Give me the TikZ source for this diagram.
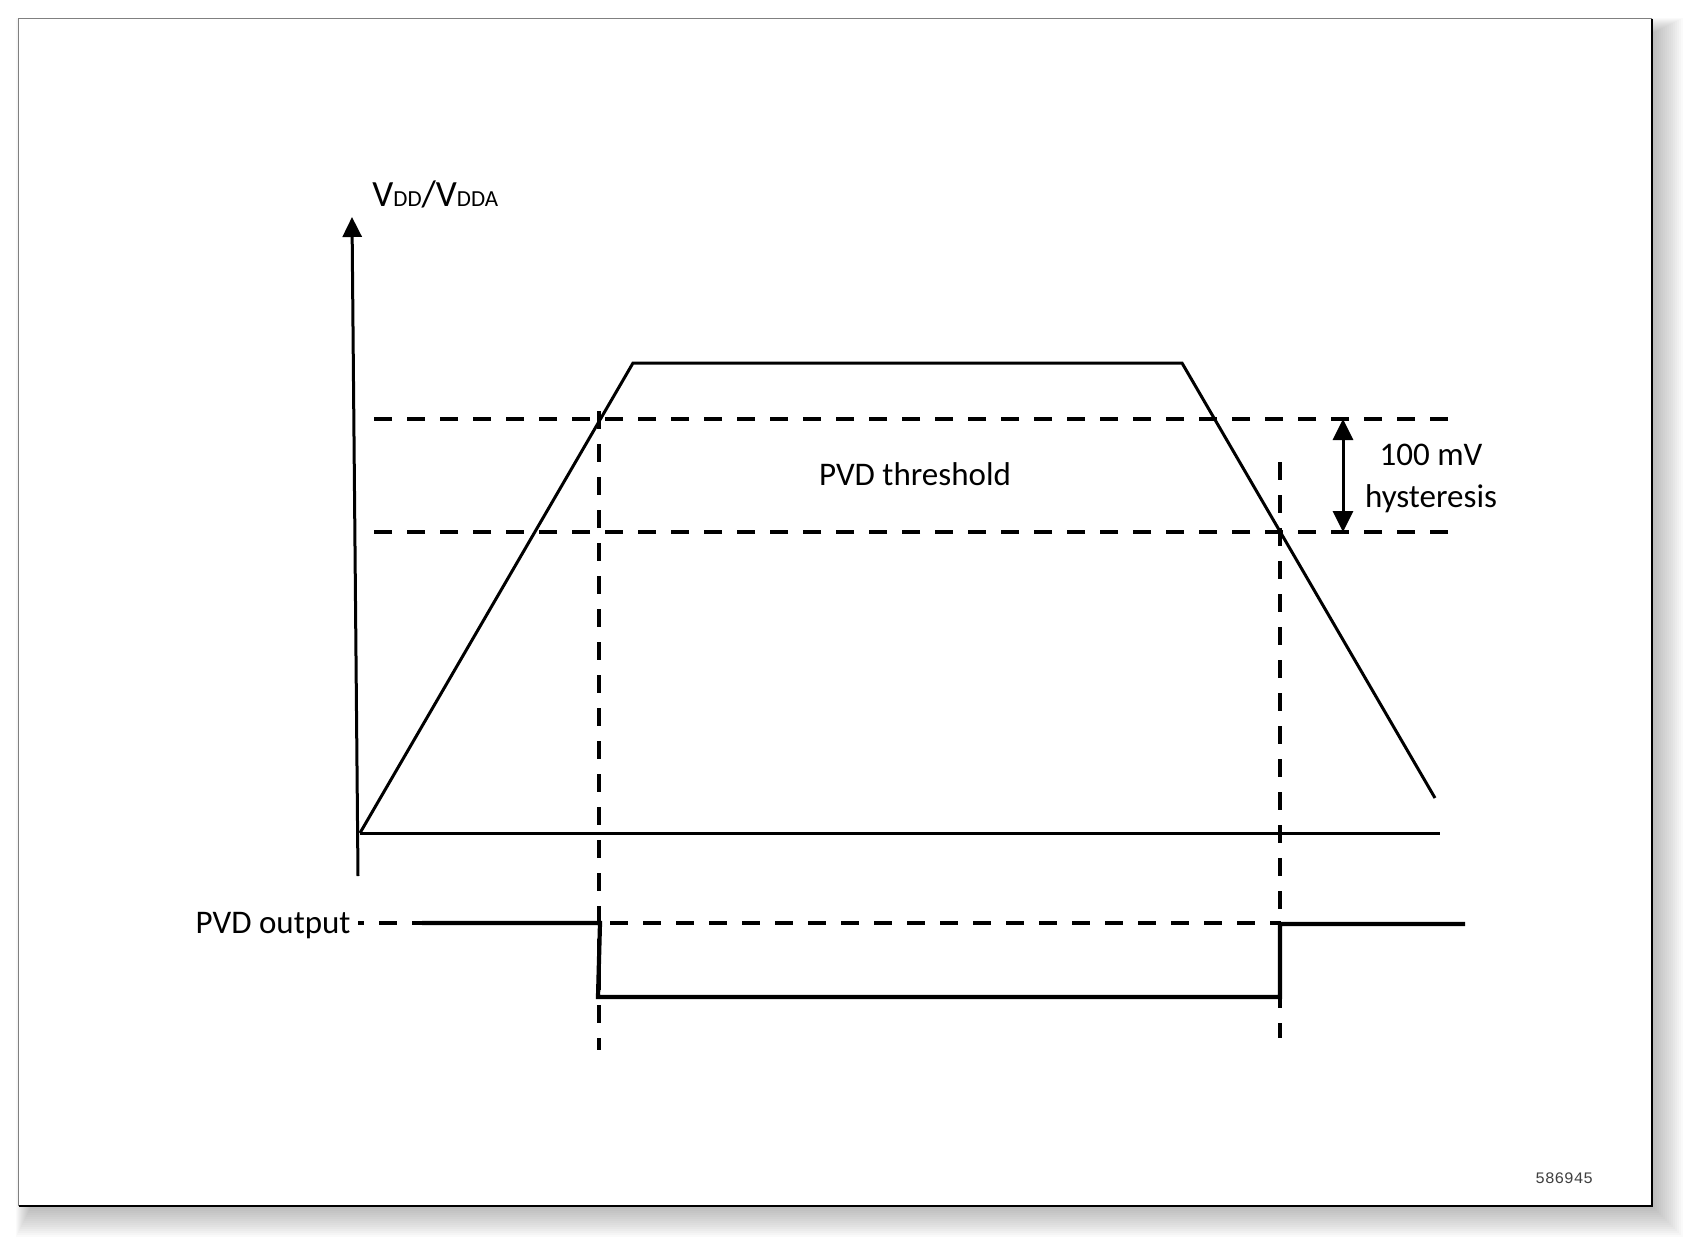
\documentclass[tikz,border=0pt]{standalone}
\usepackage{fontspec}
\setmainfont{Carlito}
\newfontfamily\monofont{Liberation Mono}
\usetikzlibrary{arrows.meta}
\begin{document}
\begin{tikzpicture}[x=0.5pt,y=-0.5pt,
  curveline/.style={line width=1.5pt, line join=miter},
  axisline/.style={line width=1.5pt},
  dashline/.style={line width=1.6pt, dash pattern=on 9pt off 7.5pt},
  sigline/.style={line width=2.1pt, line join=miter},
  lbl/.style={font=\fontsize{16.5}{20}\selectfont, inner sep=0pt},
  bigtip/.tip={Triangle[width=9.5pt,length=10pt]},
  hystip/.tip={Triangle[width=10pt,length=10.5pt]}]
\useasboundingbox (0,0) rectangle (1688,1242);
% frame shadow
\foreach \k in {0,2,...,28}
  \fill[black,opacity=0.02] (30-0.5*\k,32-0.5*\k) rectangle (1655+\k,1209+\k);
\fill[white] (18.5,18.5) rectangle (1652,1206);
\draw[gray, line width=0.8pt] (18.5,1206) -- (18.5,18.5) -- (1652,18.5);
\draw[black, line width=0.8pt] (1652,18.5) -- (1652,1206) -- (18.5,1206);
% coordinates
\coordinate (O) at (360,833);
\coordinate (A) at (633,363);
\coordinate (B) at (1182,363);
\coordinate (C) at (1435,798);
\coordinate (yb) at (358,876);
\coordinate (yt) at (352,217);
\coordinate (xe) at (1440,833);
\coordinate (u1) at (1448,419); \coordinate (u0) at (364,419);
\coordinate (l1) at (1448,532); \coordinate (l0) at (364,532);
\coordinate (v1t) at (599,411); \coordinate (v1b) at (599,1050);
\coordinate (v2t) at (1280,462); \coordinate (v2b) at (1280,1038);
\coordinate (p0) at (358,923); \coordinate (p1) at (1281,923);
\coordinate (s0) at (422,923); \coordinate (s1) at (600,923);
\coordinate (s2) at (598,997); \coordinate (s3) at (1280,997);
\coordinate (s4) at (1280,924); \coordinate (s5) at (1465,924);
\coordinate (h0) at (1343,419); \coordinate (h1) at (1343,532);
% dashed lines
\draw[dashline] (u1) -- (u0);
\draw[dashline] (l1) -- (l0);
\draw[dashline] (v1t) -- (v1b);
\draw[dashline] (v2t) -- (v2b);
\draw[dashline, dash phase=6pt] (p0) -- (p1);
% axes
\draw[axisline, -bigtip] (yb) -- (yt);
\draw[axisline] (O) -- (xe);
% supply curve
\draw[curveline] (O) -- (A) -- (B) -- (C);
% PVD output signal
\draw[sigline] (s0) -- (s1) -- (s2) -- (s3) -- (s4) -- (s5);
% hysteresis arrow
\draw[line width=1.5pt, hystip-hystip] (h0) -- (h1);
% labels
\node[anchor=base west, inner sep=0pt] (vlab) at (372,206)
  {\fontsize{18.5}{22}\selectfont V\fontsize{11.5}{13}\selectfont DD\fontsize{18.5}{22}\selectfont/V\fontsize{11.5}{13}\selectfont DDA};
\node[lbl, anchor=base] (thr) at (915,485) {PVD threshold};
\node[lbl, anchor=base] (hys1) at (1431,465) {100 mV};
\node[lbl, anchor=base] (hys2) at (1431,507) {hysteresis};
\node[lbl, anchor=base east] (pout) at (351,933) {PVD output};
\node[anchor=base west, inner sep=0pt, text=black!75, font=\monofont\fontsize{8}{10}\selectfont] (num) at (1535,1183) {586945};
\end{tikzpicture}
\end{document}
